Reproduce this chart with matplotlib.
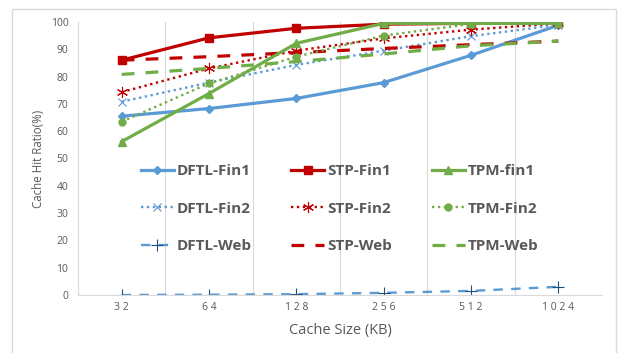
import matplotlib
matplotlib.use("Agg")
import matplotlib.pyplot as plt
from matplotlib.patches import Rectangle

plt.rcParams["font.family"] = ["Open Sans", "DejaVu Sans"]

sizes = ["3 2", "6 4", "1 2 8", "2 5 6", "5 1 2", "1 0 2 4"]

dftl_fin1 = [65.5, 68.3, 72.0, 77.8, 87.8, 98.8]
stp_fin1 = [86.0, 94.2, 97.7, 99.2, 99.5, 99.5]
tpm_fin1 = [56.2, 73.8, 92.2, 99.5, 99.5, 99.5]
dftl_fin2 = [70.8, 77.8, 84.3, 89.5, 94.8, 99.0]
stp_fin2 = [74.3, 83.0, 89.5, 94.0, 97.2, 99.5]
tpm_fin2 = [63.5, 77.5, 87.3, 95.0, 99.3, 99.5]
dftl_web = [0.0, 0.1, 0.3, 0.8, 1.5, 3.0]
stp_web = [86.0, 87.3, 88.8, 90.3, 91.7, 93.0]
tpm_web = [80.8, 83.0, 85.5, 88.3, 91.3, 93.0]

blue = "#5B9BD5"
red = "#C00000"
green = "#70AD47"
gray = "#595959"

fig = plt.figure(figsize=(6.24, 3.53), dpi=100)
fig.patches.append(Rectangle((12 / 624, 1 - 362 / 353), 604 / 624, 353 / 353,
                             transform=fig.transFigure, fill=False,
                             edgecolor="#d9d9d9", lw=1))
ax = fig.add_axes([78 / 624, 1 - 295 / 353, 524 / 624, 273 / 353])

x = list(range(len(sizes)))
lw1 = 2.3
lw2 = 1.7

h = {}
h["DFTL-Fin1"], = ax.plot(x, dftl_fin1, color=blue, lw=lw1, marker="D", ms=4)
h["DFTL-Fin2"], = ax.plot(x, dftl_fin2, color=blue, lw=lw2, ls=(0, (1, 1.5)),
                          marker="x", ms=6, mew=0.8)
h["DFTL-Web"], = ax.plot(x, dftl_web, color=blue, lw=lw2, ls=(0, (4, 3.5)),
                         marker="+", ms=8, mew=0.8, mec="#1f4e79")
h["STP-Fin1"], = ax.plot(x, stp_fin1, color=red, lw=lw1, marker="s", ms=6)
h["STP-Fin2"], = ax.plot(x, stp_fin2, color=red, lw=lw2, ls=(0, (1, 1.5)),
                         marker=(6, 2, 0), ms=8, mew=0.8)
h["STP-Web"], = ax.plot(x, stp_web, color=red, lw=lw1, ls=(0, (4, 3.5)))
h["TPM-fin1"], = ax.plot(x, tpm_fin1, color=green, lw=lw1, marker="^", ms=6)
h["TPM-Fin2"], = ax.plot(x, tpm_fin2, color=green, lw=lw2, ls=(0, (1, 1.5)),
                         marker="o", ms=5)
h["TPM-Web"], = ax.plot(x, tpm_web, color=green, lw=lw1, ls=(0, (4, 3.5)))

ax.set_xlim(-0.5, len(sizes) - 0.5)
ax.set_ylim(0, 100)
ax.set_yticks(range(0, 101, 10))
ax.set_xticks(x)
ax.set_xticklabels(sizes)
ax.tick_params(axis="both", length=0, labelsize=7.5, labelcolor=gray)
ax.tick_params(axis="x", pad=5)
ax.tick_params(axis="y", pad=7)

for b in [i + 0.5 for i in x]:
    ax.axvline(b, color="#d9d9d9", lw=0.8, zorder=0)
for s in ["top", "right"]:
    ax.spines[s].set_visible(False)
for s in ["left", "bottom"]:
    ax.spines[s].set_color("#d9d9d9")
    ax.spines[s].set_linewidth(0.8)

ax.set_xlabel("Cache Size (KB)", fontsize=10.5, color=gray, labelpad=7)
ax.set_ylabel("Cache Hit Ratio(%)", fontsize=8.3, color=gray, labelpad=4)

order = ["DFTL-Fin1", "DFTL-Fin2", "DFTL-Web",
         "STP-Fin1", "STP-Fin2", "STP-Web",
         "TPM-fin1", "TPM-Fin2", "TPM-Web"]
leg = ax.legend([h[k] for k in order], order, ncol=3, frameon=False,
                loc="upper left", bbox_to_anchor=(0.0935, 0.53),
                prop={"weight": "bold", "size": 11}, labelcolor=gray,
                handlelength=2.15, handletextpad=0.2, columnspacing=2.6,
                labelspacing=1.55)

fig.savefig("out.png", dpi=100)
